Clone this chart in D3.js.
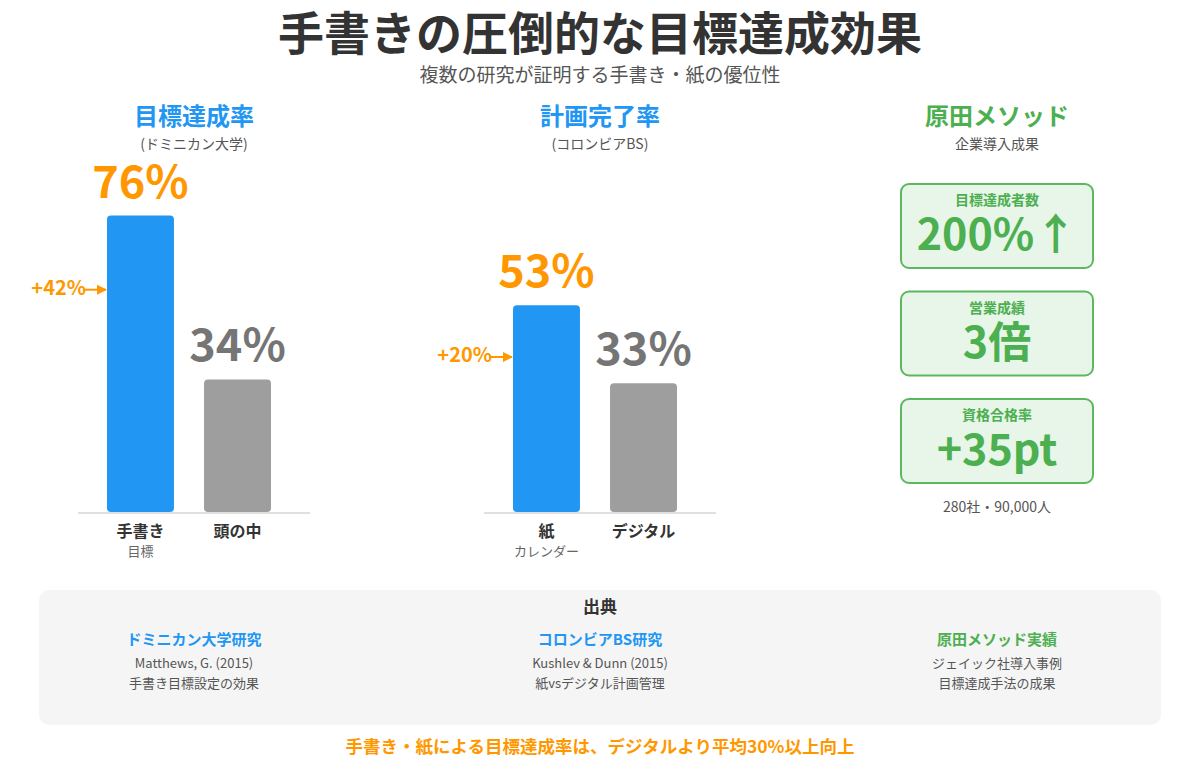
<!DOCTYPE html>
<html>
<head>
<meta charset="utf-8">
<script src="https://cdn.jsdelivr.net/npm/d3@7"></script>
<style>
  body { margin: 0; background: #fff; }
  svg { display: block; font-family: "Noto Sans CJK JP", "Noto Sans", sans-serif; }
</style>
</head>
<body>
<div id="chart"></div>
<script>
// chart data
var mainTitle = "手書きの圧倒的な目標達成効果";
var mainSubtitle = "複数の研究が証明する手書き・紙の優位性";

var panelTitles = ["目標達成率", "計画完了率", "原田メソッド"];
var panelSubtitles = ["(ドミニカン大学)", "(コロンビアBS)", "企業導入成果"];

var dominicanCategories = ["手書き", "頭の中"];
var dominicanNotes = ["目標", ""];
var dominicanValues = [76, 34];

var columbiaCategories = ["紙", "デジタル"];
var columbiaNotes = ["カレンダー", ""];
var columbiaValues = [53, 33];

var haradaLabels = ["目標達成者数", "営業成績", "資格合格率"];
var haradaValues = ["200%↑", "3倍", "+35pt"];
var haradaScale = "280社・90,000人";

var sourceHeads = ["ドミニカン大学研究", "コロンビアBS研究", "原田メソッド実績"];
var sourceAuthors = ["Matthews, G. (2015)", "Kushlev & Dunn (2015)", "ジェイック社導入事例"];
var sourceTopics = ["手書き目標設定の効果", "紙vsデジタル計画管理", "目標達成手法の成果"];
var conclusion = "手書き・紙による目標達成率は、デジタルより平均30%以上向上";

var W = 1200, H = 774;
var BLUE = "#2196F3", GREY = "#9E9E9E", ORANGE = "#FF9800", GREEN = "#4CAF50";
var panelX = [194, 600, 997];
var baseY = 512;

var svg = d3.select("#chart").append("svg")
    .attr("width", W).attr("height", H)
    .style("background-color", "white");

svg.append("defs").append("marker")
    .attr("id", "arrow")
    .attr("viewBox", "0 0 10 10")
    .attr("refX", 9).attr("refY", 5)
    .attr("markerWidth", 5).attr("markerHeight", 5)
    .attr("orient", "auto")
    .append("path")
    .attr("d", "M0,0 L10,5 L0,10 z")
    .attr("fill", ORANGE);

// titles
svg.append("text").attr("x", W / 2).attr("y", 50)
    .attr("text-anchor", "middle").attr("font-size", 46).attr("font-weight", 700)
    .attr("fill", "#333").text(mainTitle);
svg.append("text").attr("x", W / 2).attr("y", 82)
    .attr("text-anchor", "middle").attr("font-size", 19)
    .attr("fill", "#555").text(mainSubtitle);

panelTitles.forEach(function(t, i) {
    svg.append("text").attr("x", panelX[i]).attr("y", 125)
        .attr("text-anchor", "middle").attr("font-size", 24).attr("font-weight", 700)
        .attr("fill", i == 2 ? GREEN : BLUE).text(t);
    svg.append("text").attr("x", panelX[i]).attr("y", 149)
        .attr("text-anchor", "middle").attr("font-size", 14)
        .attr("fill", "#555").text(panelSubtitles[i]);
});

var y = d3.scaleLinear().domain([0, 100]).range([baseY, 122]);

/**
  * Draws one paper-vs-other bar pair.
  */
function barPanel(cx, cats, notes, vals) {
    var g = svg.append("g");
    var x = d3.scaleBand().domain(cats)
        .range([cx - 87, cx + 77]).paddingInner(0.31);

    g.append("line")
        .attr("x1", cx - 116).attr("x2", cx + 116)
        .attr("y1", baseY + 1).attr("y2", baseY + 1)
        .attr("stroke", "#E0E0E0").attr("stroke-width", 2);

    g.selectAll("rect.bar").data(vals).enter().append("rect")
        .attr("class", "bar")
        .attr("x", function(d, i) { return x(cats[i]); })
        .attr("y", function(d) { return y(d); })
        .attr("width", x.bandwidth())
        .attr("height", function(d) { return baseY - y(d); })
        .attr("rx", 4)
        .attr("fill", function(d, i) { return i == 0 ? BLUE : GREY; });

    g.selectAll("text.val").data(vals).enter().append("text")
        .attr("class", "val")
        .attr("x", function(d, i) { return x(cats[i]) + x.bandwidth() / 2; })
        .attr("y", function(d) { return y(d) - 18; })
        .attr("text-anchor", "middle").attr("font-size", 45).attr("font-weight", 700)
        .attr("fill", function(d, i) { return i == 0 ? ORANGE : "#757575"; })
        .text(function(d) { return d + "%"; });

    g.selectAll("text.cat").data(cats).enter().append("text")
        .attr("class", "cat")
        .attr("x", function(d) { return x(d) + x.bandwidth() / 2; })
        .attr("y", 537)
        .attr("text-anchor", "middle").attr("font-size", 16).attr("font-weight", 700)
        .attr("fill", "#333").text(function(d) { return d; });

    g.selectAll("text.note").data(notes).enter().append("text")
        .attr("class", "note")
        .attr("x", function(d, i) { return x(cats[i]) + x.bandwidth() / 2; })
        .attr("y", 556)
        .attr("text-anchor", "middle").attr("font-size", 13)
        .attr("fill", "#666").text(function(d) { return d; });

    // difference arrow
    var top = y(vals[0]);
    var ay = top + (baseY - top) * 0.25;
    var bx = x(cats[0]);
    g.append("text").attr("x", bx - 21).attr("y", ay + 5)
        .attr("text-anchor", "end").attr("font-size", 20).attr("font-weight", 700)
        .attr("fill", ORANGE).text("+" + (vals[0] - vals[1]) + "%");
    g.append("line")
        .attr("x1", bx - 24).attr("x2", bx - 1)
        .attr("y1", ay).attr("y2", ay)
        .attr("stroke", ORANGE).attr("stroke-width", 2)
        .attr("marker-end", "url(#arrow)");
}

barPanel(panelX[0], dominicanCategories, dominicanNotes, dominicanValues);
barPanel(panelX[1], columbiaCategories, columbiaNotes, columbiaValues);

// harada boxes
var boxY = d3.scaleBand().domain(haradaLabels).range([183, 484]).paddingInner(0.2);
var boxes = svg.selectAll("g.box").data(haradaLabels).enter().append("g")
    .attr("class", "box")
    .attr("transform", function(d) { return "translate(" + (panelX[2] - 97) + "," + boxY(d) + ")"; });
boxes.append("rect")
    .attr("x", 1).attr("y", 1)
    .attr("width", 192).attr("height", boxY.bandwidth() - 2)
    .attr("rx", 8)
    .attr("fill", "#E8F5E9").attr("stroke", "#5CB860").attr("stroke-width", 2);
boxes.append("text")
    .attr("x", 97).attr("y", 22)
    .attr("text-anchor", "middle").attr("font-size", 14).attr("font-weight", 700)
    .attr("fill", GREEN).text(function(d) { return d; });
boxes.append("text")
    .attr("x", 97).attr("y", 67)
    .attr("text-anchor", "middle").attr("font-size", 43).attr("font-weight", 700)
    .attr("fill", GREEN).text(function(d, i) { return haradaValues[i]; });
svg.append("text").attr("x", panelX[2]).attr("y", 512)
    .attr("text-anchor", "middle").attr("font-size", 14)
    .attr("fill", "#555").text(haradaScale);

// sources
svg.append("rect").attr("x", 39).attr("y", 590).attr("width", 1122).attr("height", 135)
    .attr("rx", 10).attr("fill", "#F5F5F5");
svg.append("text").attr("x", W / 2).attr("y", 613)
    .attr("text-anchor", "middle").attr("font-size", 17).attr("font-weight", 700)
    .attr("fill", "#333").text("出典");
sourceHeads.forEach(function(h, i) {
    svg.append("text").attr("x", panelX[i]).attr("y", 645)
        .attr("text-anchor", "middle").attr("font-size", 15).attr("font-weight", 700)
        .attr("fill", i == 2 ? GREEN : BLUE).text(h);
    svg.append("text").attr("x", panelX[i]).attr("y", 668)
        .attr("text-anchor", "middle").attr("font-size", 13)
        .attr("fill", "#555").text(sourceAuthors[i]);
    svg.append("text").attr("x", panelX[i]).attr("y", 688)
        .attr("text-anchor", "middle").attr("font-size", 13)
        .attr("fill", "#555").text(sourceTopics[i]);
});

svg.append("text").attr("x", W / 2).attr("y", 753)
    .attr("text-anchor", "middle").attr("font-size", 17.5).attr("font-weight", 700)
    .attr("fill", ORANGE).text(conclusion);
</script>
</body>
</html>
